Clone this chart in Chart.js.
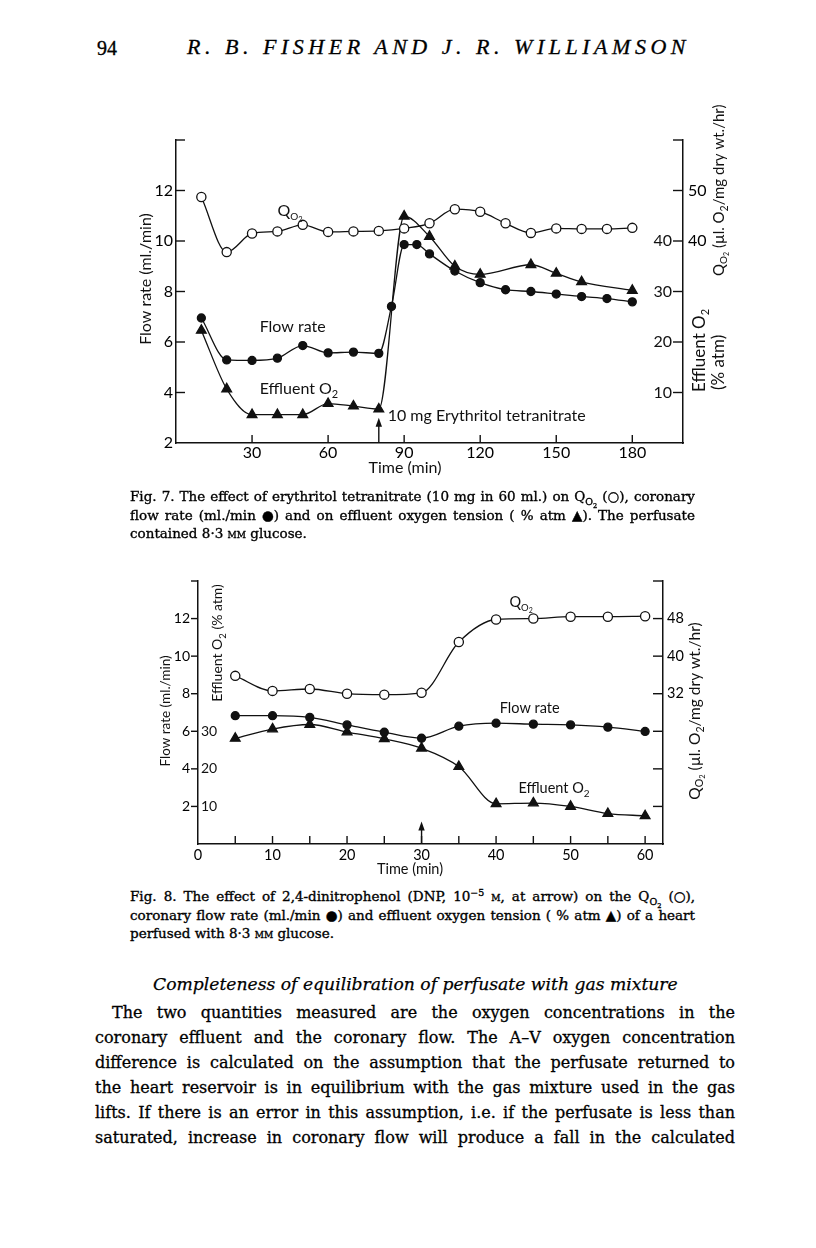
<!DOCTYPE html>
<html>
<head>
<meta charset="utf-8">
<script src="https://cdn.jsdelivr.net/npm/chart.js@4.4.1/dist/chart.umd.min.js"></script>
<style>
  html, body { margin: 0; padding: 0; background: #fff; }
  body { width: 816px; height: 1248px; position: relative; overflow: hidden; color: #000; font-family: 'DejaVu Serif', serif; }
  canvas { position: absolute; }
  #fig7 { left: 100px; top: 90px; }
  #fig8 { left: 100px; top: 560px; }
  #pageNo { position: absolute; left: 97px; top: 38px; font: 20px/20px 'Liberation Serif', serif; -webkit-text-stroke: 0.3px #000; }
  #running { position: absolute; left: 187px; top: 37px; font: italic 22px/20px 'Liberation Serif', serif; white-space: nowrap; -webkit-text-stroke: 0.3px #000; }
  .cap { position: absolute; left: 130px; font-size: 13.5px; line-height: 18.3px; -webkit-text-stroke: 0.35px #000; }
  .ln { width: max-content; white-space: nowrap; }
  sub, sup { font-size: 70%; line-height: 0; }
  .sc { font-variant: small-caps; }
  #cap7 { top: 487px; }
  #cap8 { top: 887px; }
  #heading { position: absolute; left: 153px; top: 974px; font: italic 16px/20px 'DejaVu Serif', serif; white-space: nowrap; -webkit-text-stroke: 0.25px #000; }
  .body { position: absolute; left: 95px; top: 1000px; font-size: 16px; line-height: 25px; -webkit-text-stroke: 0.3px #000; }
</style>
</head>
<body>
<div id="pageNo">94</div>
<div id="running">R. B. FISHER AND J. R. WILLIAMSON</div>

<canvas id="fig7" width="660" height="400"></canvas>
<div class="cap" id="cap7">
  <div class="ln" data-w="565">Fig. 7. The effect of erythritol tetranitrate (10 mg in 60 ml.) on Q<sub>O<sub>2</sub></sub> (○), coronary</div>
  <div class="ln" data-w="565">flow rate (ml./min ●) and on effluent oxygen tension ( % atm ▲). The perfusate</div>
  <div class="ln">contained 8·3 <span class="sc">mm</span> glucose.</div>
</div>

<canvas id="fig8" width="660" height="320"></canvas>
<div class="cap" id="cap8">
  <div class="ln" data-w="565">Fig. 8. The effect of 2,4-dinitrophenol (DNP, 10<sup>−5</sup> <span class="sc">m</span>, at arrow) on the Q<sub>O<sub>2</sub></sub> (○),</div>
  <div class="ln" data-w="565">coronary flow rate (ml./min ●) and effluent oxygen tension ( % atm ▲) of a heart</div>
  <div class="ln">perfused with 8·3 <span class="sc">mm</span> glucose.</div>
</div>

<div id="heading">Completeness of equilibration of perfusate with gas mixture</div>
<div class="body">
  <div class="ln" data-w="623" style="margin-left:17px">The two quantities measured are the oxygen concentrations in the</div>
  <div class="ln" data-w="640">coronary effluent and the coronary flow. The A–V oxygen concentration</div>
  <div class="ln" data-w="640">difference is calculated on the assumption that the perfusate returned to</div>
  <div class="ln" data-w="640">the heart reservoir is in equilibrium with the gas mixture used in the gas</div>
  <div class="ln" data-w="640">lifts. If there is an error in this assumption, i.e. if the perfusate is less than</div>
  <div class="ln" data-w="640">saturated, increase in coronary flow will produce a fall in the calculated</div>
</div>

<script>
const FONT = 'Lato';
const INK = '#111';

// Fig. 7 - erythritol tetranitrate
const fig7XTicks = [30, 60, 90, 120, 150, 180];
const fig7FlowTicks = [2, 4, 6, 8, 10, 12, 14];
const fig7RightTicks = [10, 20, 30, 40, 50, 60];
const fig7QLabels = [40, 50];
const fig7EffLabels = [10, 20, 30, 40];

const fig7QTime = [10, 20, 30, 40, 50, 60, 70, 80, 90, 100, 110, 120, 130, 140, 150, 160, 170, 180];
const fig7Qo2 = [48.7, 37.8, 41.5, 41.9, 43.2, 41.8, 41.9, 42.0, 42.5, 43.5, 46.3, 45.8, 43.5, 41.6, 42.5, 42.4, 42.4, 42.6];
const fig7FlowTime = [10, 20, 30, 40, 50, 60, 70, 80, 85, 90, 95, 100, 110, 120, 130, 140, 150, 160, 170, 180];
const fig7Flow = [6.95, 5.29, 5.27, 5.36, 5.86, 5.57, 5.6, 5.55, 7.41, 9.86, 9.86, 9.49, 8.81, 8.35, 8.07, 8.0, 7.9, 7.8, 7.72, 7.59];
const fig7EffTime = [10, 20, 30, 40, 50, 60, 70, 80, 90, 100, 110, 120, 140, 150, 160, 180];
const fig7Eff = [22.3, 10.7, 5.6, 5.6, 5.6, 7.8, 7.3, 6.7, 44.9, 40.9, 35.0, 33.4, 35.3, 33.6, 31.9, 30.2];

// Fig. 8 - 2,4-dinitrophenol
const fig8XTicks = [0, 5, 10, 15, 20, 25, 30, 35, 40, 45, 50, 55, 60];
const fig8FlowTicks = [2, 4, 6, 8, 10, 12, 14];
const fig8QTicks = [8, 16, 24, 32, 40, 48, 56];
const fig8QLabels = [32, 40, 48];
const fig8EffLabels = [10, 20, 30];

const fig8Time = [5, 10, 15, 20, 25, 30, 35, 40, 45, 50, 55, 60];
const fig8Qo2 = [35.8, 32.6, 33.0, 32.0, 31.8, 32.2, 43.0, 47.8, 48.0, 48.4, 48.4, 48.5];
const fig8Flow = [6.83, 6.83, 6.74, 6.34, 5.95, 5.63, 6.27, 6.43, 6.38, 6.34, 6.22, 5.99];
const fig8Eff = [28.1, 30.6, 31.8, 29.8, 28.0, 25.5, 20.6, 10.7, 10.9, 10.0, 8.1, 7.5];

function pts(xs, ys) { return xs.map((x, i) => ({ x: x, y: ys[i] })); }
function setTicks(values) { return s => { s.ticks = values.map(v => ({ value: v })); }; }
function fixW(w) { return s => { s.width = w; }; }
function fixH(h) { return s => { s.height = h; }; }
function only(list) { return v => list.includes(v) ? String(v) : ''; }

const openCircle = { pointStyle: 'circle', pointRadius: 4.6, pointBackgroundColor: '#fff' };
const dot = { pointStyle: 'circle', pointRadius: 4, pointBackgroundColor: INK };
const tri = { pointStyle: 'triangle', pointRadius: 5.6, pointBackgroundColor: INK };

function series(data, axis, style) {
  return Object.assign({
    data: data, yAxisID: axis, borderColor: INK, borderWidth: 1.3,
    cubicInterpolationMode: 'monotone', pointBorderColor: INK, pointBorderWidth: 1.3,
    pointHoverRadius: 0, fill: false, clip: false
  }, style);
}

function drawRuns(ctx, runs, x, y, rot, align) {
  ctx.save();
  ctx.translate(x, y);
  if (rot) ctx.rotate(rot);
  let total = 0;
  const widths = runs.map(r => {
    ctx.font = r[1] + 'px ' + FONT;
    const w = ctx.measureText(r[0]).width;
    total += w;
    return w;
  });
  let cx = align === 'center' ? -total / 2 : 0;
  ctx.textAlign = 'left';
  ctx.textBaseline = 'alphabetic';
  runs.forEach((r, i) => {
    ctx.font = r[1] + 'px ' + FONT;
    ctx.fillText(r[0], cx, r[2] || 0);
    cx += widths[i];
  });
  ctx.restore();
}

// tick marks, inner labels, arrow and text labels
function decor(cfg) {
  return {
    id: 'decor',
    afterDraw(chart) {
      const ctx = chart.ctx, a = chart.chartArea, sx = chart.scales.x, sy = chart.scales.y;
      ctx.save();
      ctx.strokeStyle = INK;
      ctx.fillStyle = INK;
      ctx.lineWidth = 1.4;
      cfg.marks.forEach(m => {
        const s = chart.scales[m.scale];
        s.ticks.forEach(t => {
          if (t.value === s.min) return;
          const p = s.getPixelForValue(t.value);
          ctx.beginPath();
          if (m.edge === 'bottom') { ctx.moveTo(p, a.bottom); ctx.lineTo(p, a.bottom - m.len); }
          else if (m.edge === 'left') { ctx.moveTo(a.left, p); ctx.lineTo(a.left + m.len, p); }
          else { ctx.moveTo(a.right, p); ctx.lineTo(a.right - m.len, p); }
          ctx.stroke();
        });
      });
      cfg.inner.forEach(l => {
        const s = chart.scales[l.scale];
        ctx.font = l.size + 'px ' + FONT;
        ctx.textBaseline = 'middle';
        ctx.textAlign = l.edge === 'left' ? 'left' : 'right';
        l.values.forEach(v => {
          const x = l.edge === 'left' ? a.left + l.pad : a.right - l.pad;
          ctx.fillText(String(v), x, s.getPixelForValue(v));
        });
      });
      const ax = sx.getPixelForValue(cfg.arrow.x), tip = sy.getPixelForValue(cfg.arrow.tip);
      ctx.beginPath();
      ctx.moveTo(ax, a.bottom);
      ctx.lineTo(ax, tip + 6);
      ctx.stroke();
      ctx.beginPath();
      ctx.moveTo(ax, tip);
      ctx.lineTo(ax - 3.2, tip + 9);
      ctx.lineTo(ax + 3.2, tip + 9);
      ctx.closePath();
      ctx.fill();
      cfg.texts.forEach(t => {
        const x = t.px !== undefined ? t.px : sx.getPixelForValue(t.x);
        const y = t.py !== undefined ? t.py : sy.getPixelForValue(t.y);
        drawRuns(ctx, t.runs, x, y, t.rot, t.align);
      });
      ctx.restore();
    }
  };
}

function axisBorder() { return { display: true, color: INK, width: 1.5 }; }
function noGrid() { return { display: false, drawTicks: false }; }
function tickFont(size) { return { family: FONT, size: size }; }

// ---------- Fig. 7 ----------
new Chart(document.getElementById('fig7'), {
  type: 'line',
  data: {
    datasets: [
      series(pts(fig7QTime, fig7Qo2), 'yR', openCircle),
      series(pts(fig7FlowTime, fig7Flow), 'y', dot),
      series(pts(fig7EffTime, fig7Eff), 'yR', tri)
    ]
  },
  options: {
    responsive: false, animation: false, devicePixelRatio: 1,
    layout: { padding: { top: 50, left: 0, right: 0, bottom: 0 } },
    plugins: { legend: { display: false }, tooltip: { enabled: false } },
    scales: {
      x: {
        type: 'linear', min: 0, max: 200,
        afterBuildTicks: setTicks(fig7XTicks), afterFit: fixH(47),
        ticks: { font: tickFont(16), color: '#000', padding: 0, autoSkip: false, maxRotation: 0 },
        grid: noGrid(), border: axisBorder()
      },
      y: {
        position: 'left', min: 2, max: 14,
        afterBuildTicks: setTicks(fig7FlowTicks), afterFit: fixW(76),
        ticks: { font: tickFont(16), color: '#000', padding: 3, autoSkip: false, callback: v => v === 14 ? '' : String(v) },
        grid: noGrid(), border: axisBorder()
      },
      yR: {
        position: 'right', min: 0, max: 60,
        afterBuildTicks: setTicks(fig7RightTicks), afterFit: fixW(77),
        ticks: { font: tickFont(16), color: '#000', padding: 5, autoSkip: false, callback: only(fig7QLabels) },
        grid: noGrid(), border: axisBorder()
      }
    }
  },
  plugins: [decor({
    marks: [
      { scale: 'x', edge: 'bottom', len: 8 },
      { scale: 'y', edge: 'left', len: 9 },
      { scale: 'yR', edge: 'right', len: 10 }
    ],
    inner: [{ scale: 'yR', values: fig7EffLabels, edge: 'right', pad: 11, size: 16 }],
    arrow: { x: 80, tip: 3.0 },
    texts: [
      { runs: [['Q', 16], ['O', 10, 4], ['2', 7.5, 6]], x: 40, y: 11.0 },
      { runs: [['Flow rate', 16]], x: 33, y: 6.4 },
      { runs: [['Effluent O', 16], ['2', 11, 4]], x: 33, y: 3.95 },
      { runs: [['10 mg Erythritol tetranitrate', 16]], x: 83.5, y: 2.87 },
      { runs: [['Time (min)', 16]], px: 305, py: 383, align: 'center' },
      { runs: [['Flow rate (ml./min)', 16]], px: 51, py: 189, rot: -Math.PI / 2, align: 'center' },
      { runs: [['Effluent O', 17], ['2', 11, 4]], px: 605, py: 302, rot: -Math.PI / 2 },
      { runs: [['(% atm)', 17]], px: 624, py: 300, rot: -Math.PI / 2 },
      { runs: [['Q', 15], ['O', 10, 3], ['2', 7, 5], [' (µl. O', 15], ['2', 10.5, 4], ['/mg dry wt./hr)', 15]], px: 624, py: 186, rot: -Math.PI / 2 }
    ]
  })]
});

// ---------- Fig. 8 ----------
new Chart(document.getElementById('fig8'), {
  type: 'line',
  data: {
    datasets: [
      series(pts(fig8Time, fig8Qo2), 'yR', openCircle),
      series(pts(fig8Time, fig8Flow), 'y', dot),
      series(pts(fig8Time, fig8Eff), 'yE', tri)
    ]
  },
  options: {
    responsive: false, animation: false, devicePixelRatio: 1,
    layout: { padding: { top: 21, left: 0, right: 0, bottom: 0 } },
    plugins: { legend: { display: false }, tooltip: { enabled: false } },
    scales: {
      x: {
        type: 'linear', min: 0, max: 62.4,
        afterBuildTicks: setTicks(fig8XTicks), afterFit: fixH(36),
        ticks: { font: tickFont(14.5), color: '#000', padding: 3, autoSkip: false, maxRotation: 0, callback: v => v % 10 === 0 ? String(v) : '' },
        grid: noGrid(), border: axisBorder()
      },
      y: {
        position: 'left', min: 0, max: 14,
        afterBuildTicks: setTicks(fig8FlowTicks), afterFit: fixW(98),
        ticks: { font: tickFont(14), color: '#000', padding: 8, autoSkip: false, callback: v => v === 14 ? '' : String(v) },
        grid: noGrid(), border: axisBorder()
      },
      yE: { display: false, min: 0, max: 70 },
      yR: {
        position: 'right', min: 0, max: 56,
        afterBuildTicks: setTicks(fig8QTicks), afterFit: fixW(97),
        ticks: { font: tickFont(14.5), color: '#000', padding: 4, autoSkip: false, callback: only(fig8QLabels) },
        grid: noGrid(), border: axisBorder()
      }
    }
  },
  plugins: [decor({
    marks: [
      { scale: 'x', edge: 'bottom', len: 8 },
      { scale: 'y', edge: 'left', len: -7 },
      { scale: 'yR', edge: 'right', len: 10 }
    ],
    inner: [{ scale: 'yE', values: fig8EffLabels, edge: 'left', pad: 3, size: 14 }],
    arrow: { x: 30, tip: 1.2 },
    texts: [
      { runs: [['Q', 14.5], ['O', 9.5, 4], ['2', 7, 6]], x: 41.8, y: 12.63 },
      { runs: [['Flow rate', 14.5]], x: 40.5, y: 6.99 },
      { runs: [['Effluent O', 14.5], ['2', 10, 4]], x: 43.0, y: 2.74 },
      { runs: [['Time (min)', 14.5]], px: 310, py: 314, align: 'center' },
      { runs: [['Flow rate (ml./min)', 13.5]], px: 70, py: 151, rot: -Math.PI / 2, align: 'center' },
      { runs: [['Effluent O', 14], ['2', 9.5, 3.5], [' (% atm)', 14]], px: 122, py: 83, rot: -Math.PI / 2, align: 'center' },
      { runs: [['Q', 15.5], ['O', 10.5, 3], ['2', 7.5, 5], [' (µl. O', 15.5], ['2', 10.5, 4], ['/mg dry wt./hr)', 15.5]], px: 600, py: 151, rot: -Math.PI / 2, align: 'center' }
    ]
  })]
});

// justify each printed line to its measured width
document.querySelectorAll('.ln[data-w]').forEach(el => {
  const target = parseFloat(el.dataset.w);
  const w = el.getBoundingClientRect().width;
  const gaps = (el.textContent.trim().match(/ +/g) || []).length;
  if (w < target && gaps) el.style.wordSpacing = ((target - w) / gaps) + 'px';
  else if (w > target) el.style.letterSpacing = ((target - w) / el.textContent.trim().length) + 'px';
});
const head = document.getElementById('heading');
head.style.fontSize = (16 * 525 / head.getBoundingClientRect().width) + 'px';
const run = document.getElementById('running');
run.style.letterSpacing = ((503 - run.getBoundingClientRect().width) / run.textContent.length) + 'px';
</script>
</body>
</html>
